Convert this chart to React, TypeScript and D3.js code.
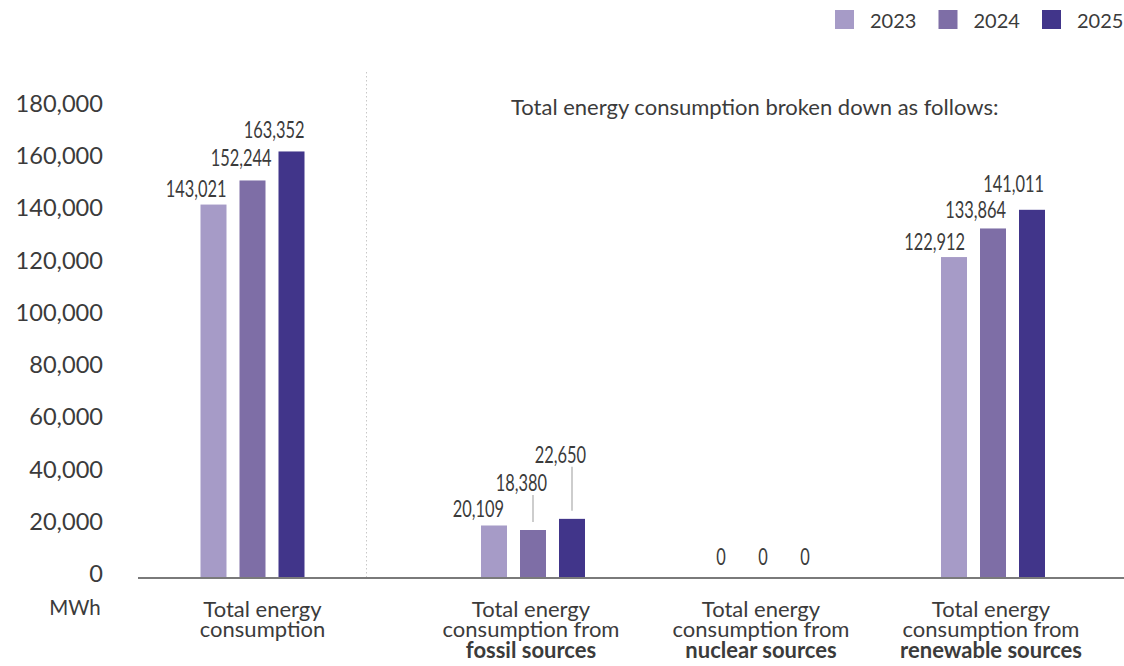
import React from "react";
import * as d3 from "d3";

const categories = ["total", "fossil", "nuclear", "renewable"];
const categoryLines = [
  ["Total energy", "consumption"],
  ["Total energy", "consumption from"],
  ["Total energy", "consumption from"],
  ["Total energy", "consumption from"],
];
const categoryBold = ["", "fossil sources", "nuclear sources", "renewable sources"];
const years = ["2023", "2024", "2025"];
const values2023 = [143021, 20109, 0, 122912];
const values2024 = [152244, 18380, 0, 133864];
const values2025 = [163352, 22650, 0, 141011];
const yTicks = [0, 20000, 40000, 60000, 80000, 100000, 120000, 140000, 160000, 180000];
const unitLabel = "MWh";
const headerText = "Total energy consumption broken down as follows:";

const W = 1124;
const H = 666;
const colors = ["#a69bc7", "#7e6ea6", "#41358a"];
const textColor = "#3b3b3b";
const fontMain = "Lato, 'Open Sans', sans-serif";

// label placement tweaks (layout only)
const lifted: Record<string, number> = { "fossil-2024": 39, "fossil-2025": 56 };
const nudge: Record<string, [number, number]> = {
  "total-2023": [0, 2],
  "total-2024": [6, -4],
  "total-2025": [0, -3],
  "fossil-2023": [-3, 2],
  "renewable-2023": [-2, 3],
  "renewable-2025": [-1, -8],
};

function NarrowText({ x, y, anchor, children }: { x: number; y: number; anchor: string; children: any }) {
  return (
    <g transform={`translate(${x},${y}) scale(0.73,1)`}>
      <text x={0} y={0} textAnchor={anchor} fontFamily={fontMain} fontSize={22.5} fill={textColor}>
        {children}
      </text>
    </g>
  );
}

export default function App() {
  const series = [values2023, values2024, values2025];
  const y = d3.scaleLinear().domain([0, 180000]).range([578, 108]);
  const xLeft = d3.scaleBand<string>().domain(categories.slice(0, 1)).range([138, 367]);
  const xRight = d3.scaleBand<string>().domain(categories.slice(1)).range([418, 1108]);
  const center = (c: string) =>
    c === categories[0] ? xLeft(c)! + xLeft.bandwidth() / 2 : xRight(c)! + xRight.bandwidth() / 2;
  const xInner = d3.scaleBand<string>().domain(years).range([-52, 52]).paddingInner(1 / 3);
  const bw = xInner.bandwidth();
  const fmt = d3.format(",");

  const legendX = d3.scalePoint<string>().domain(years).range([835, 1042]);

  return (
    <svg width={W} height={H} style={{ position: "absolute", left: 0, top: 0, background: "#fff" }}>
      {/* legend */}
      {years.map((yr, i) => (
        <g key={yr}>
          <rect x={legendX(yr)!} y={10} width={19} height={19} fill={colors[i]} />
          <text x={legendX(yr)! + 35} y={28} fontFamily={fontMain} fontSize={20} fill={textColor}>
            {yr}
          </text>
        </g>
      ))}

      {/* separator */}
      <line x1={366.5} x2={366.5} y1={72} y2={578} stroke="#c8c8c8" strokeWidth={1} strokeDasharray="1.5 2.5" />

      {/* header */}
      <text x={511} y={115} fontFamily={fontMain} fontSize={22} fill={textColor}>
        {headerText}
      </text>

      {/* y tick labels */}
      {yTicks.map((t) => (
        <text key={t} x={103} y={y(t) + 4} textAnchor="end" fontFamily={fontMain} fontSize={23.6} fill={textColor}>
          {fmt(t)}
        </text>
      ))}
      <text x={75} y={615} textAnchor="middle" fontFamily={fontMain} fontSize={20.5} fill={textColor}>
        {unitLabel}
      </text>

      {/* bars */}
      {categories.map((c, ci) => (
        <g key={c} transform={`translate(${center(c)},0)`}>
          {years.map((yr, yi) => {
            const v = series[yi][ci];
            const x0 = xInner(yr)!;
            const top = y(v);
            const key = `${c}-${yr}`;
            const lift = lifted[key];
            const [dx, dy] = nudge[key] || [0, 0];
            let label;
            if (v === 0) {
              label = (
                <NarrowText x={x0 + bw / 2 + (yi - 1) * 3} y={y(0) - 13} anchor="middle">
                  {fmt(v)}
                </NarrowText>
              );
            } else if (lift) {
              label = (
                <g>
                  <line x1={x0 + bw / 2} x2={x0 + bw / 2} y1={top - lift + 4} y2={top - 8} stroke="#bdbdbd" strokeWidth={1.5} />
                  <NarrowText x={x0 + bw + 1} y={top - lift} anchor="end">
                    {fmt(v)}
                  </NarrowText>
                </g>
              );
            } else {
              label = (
                <NarrowText x={x0 + bw + dx} y={top - 10 + dy} anchor="end">
                  {fmt(v)}
                </NarrowText>
              );
            }
            return (
              <g key={yr}>
                {v > 0 && <rect x={x0} y={top} width={bw} height={y(0) - top} fill={colors[yi]} />}
                {label}
              </g>
            );
          })}
        </g>
      ))}

      {/* axis line */}
      <line x1={138} x2={W} y1={578} y2={578} stroke="#7a7a7a" strokeWidth={2} />

      {/* category labels */}
      {categories.map((c, ci) => {
        const cx = center(c) + (ci === 0 ? 10 : -2);
        return (
          <text key={c} textAnchor="middle" fontFamily={fontMain} fontSize={22} fill={textColor}>
            {categoryLines[ci].map((ln, li) => (
              <tspan key={li} x={cx} y={616.5 + li * 20.8}>
                {ln}
              </tspan>
            ))}
            {categoryBold[ci] && (
              <tspan x={cx} y={616.5 + 2 * 20.8} fontWeight="bold">
                {categoryBold[ci]}
              </tspan>
            )}
          </text>
        );
      })}
    </svg>
  );
}
